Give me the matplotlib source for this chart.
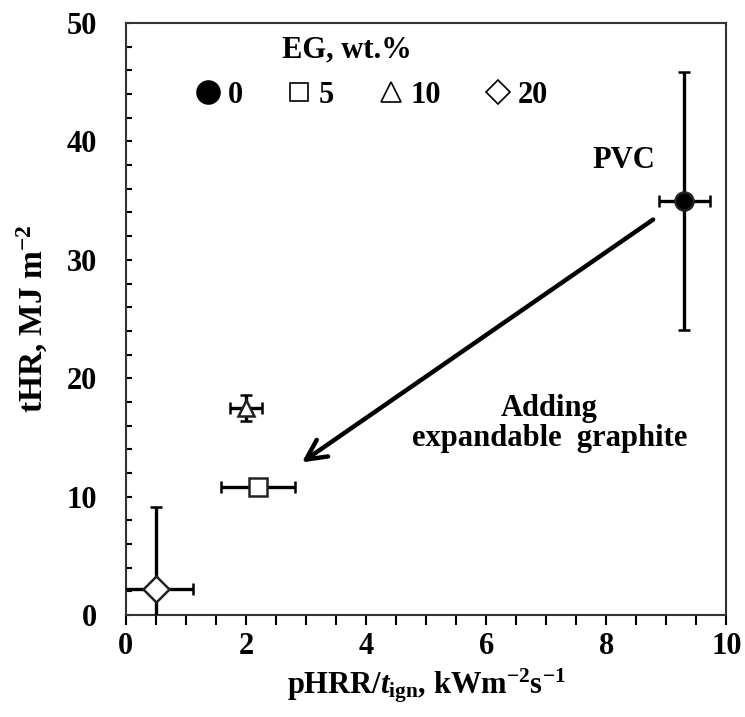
import matplotlib
matplotlib.use("Agg")
import matplotlib.pyplot as plt
from matplotlib.lines import Line2D
from matplotlib.ticker import MultipleLocator

plt.rcParams['font.family'] = ['Liberation Serif', 'DejaVu Serif']
plt.rcParams['font.weight'] = 'bold'
plt.rcParams['mathtext.fontset'] = 'custom'
plt.rcParams['mathtext.rm'] = 'Liberation Serif:bold'
plt.rcParams['mathtext.it'] = 'Liberation Serif:bold:italic'
plt.rcParams['mathtext.bf'] = 'Liberation Serif:bold'

# EG content, wt.%
eg_labels = ["0", "5", "10", "20"]
# pHRR / t_ign and its error
x_vals = [9.3, 2.2, 2.0, 0.5]
x_err = [0.43, 0.62, 0.27, 0.62]
# tHR and its error
y_vals = [35.0, 10.8, 17.5, 2.2]
y_err = [10.9, 0.0, 1.1, 6.9]

markers = ['o', 's', '^', 'D']
faces = ['black', 'white', 'white', 'white']
msizes = [13, 13, 11, 13.5]

fs = 22

fig = plt.figure(figsize=(7.45, 7.17), dpi=100)
ax = fig.add_axes([0.169, 0.142, 0.806, 0.826])

for i in range(len(x_vals)):
    ax.errorbar(x_vals[i], y_vals[i], xerr=x_err[i],
                yerr=y_err[i] if y_err[i] > 0 else None,
                fmt=markers[i], ms=msizes[i], mfc=faces[i], mec='#222222', mew=1.8,
                ecolor='black', elinewidth=2.4, capsize=4.5, capthick=2.4, zorder=3)

ax.set_xlim(0, 10)
ax.set_ylim(0, 50)
ax.xaxis.set_major_locator(MultipleLocator(2))
ax.xaxis.set_minor_locator(MultipleLocator(0.5))
ax.yaxis.set_major_locator(MultipleLocator(10))
ax.yaxis.set_minor_locator(MultipleLocator(2))
ax.tick_params(axis='x', which='both', direction='out', length=7, width=1.5, labelsize=fs, pad=5)
ax.tick_params(axis='y', which='both', direction='in', length=4.5, width=1.5, labelsize=fs, pad=21)
for s in ax.spines.values():
    s.set_linewidth(1.5)
    s.set_color('#333333')

ax.set_xlabel(r'pHRR/$\mathit{t}_{\mathrm{ign}}$, kWm$^{-2}$s$^{-1}$', fontsize=fs, fontweight='bold', labelpad=4)
ax.set_ylabel(r'tHR, MJ m$^{-2}$', fontsize=fs + 2, fontweight='bold', labelpad=12)

# legend
handles = [Line2D([], [], ls='none', marker=m, ms=s, mfc=f, mec='black', mew=1.2)
           for m, s, f in zip(markers, [16.5, 12.5, 14, 12.5], faces)]
ax.legend(handles, eg_labels, ncol=4, frameon=False, loc='center left',
          bbox_to_anchor=(0.116, 0.878), fontsize=fs, handlelength=0.8,
          handletextpad=0.25, columnspacing=1.45, borderpad=0, borderaxespad=0)
ax.text(0.368, 0.954, 'EG, wt.%', transform=ax.transAxes, fontsize=fs,
        fontweight='bold', ha='center', va='center')

ax.text(8.3, 38.4, 'PVC', fontsize=fs, fontweight='bold', ha='center', va='center')
ax.text(7.05, 16.2, 'Adding\nexpandable  graphite', fontsize=fs, fontweight='bold',
        ha='center', va='center', linespacing=1.05)
ax.annotate('', xy=(2.93, 12.9), xytext=(8.78, 33.4),
            arrowprops=dict(arrowstyle='->,head_length=0.6,head_width=0.3',
                            lw=3.2, color='black', mutation_scale=24, shrinkA=0, shrinkB=0))

fig.savefig('out.png', dpi=100)
